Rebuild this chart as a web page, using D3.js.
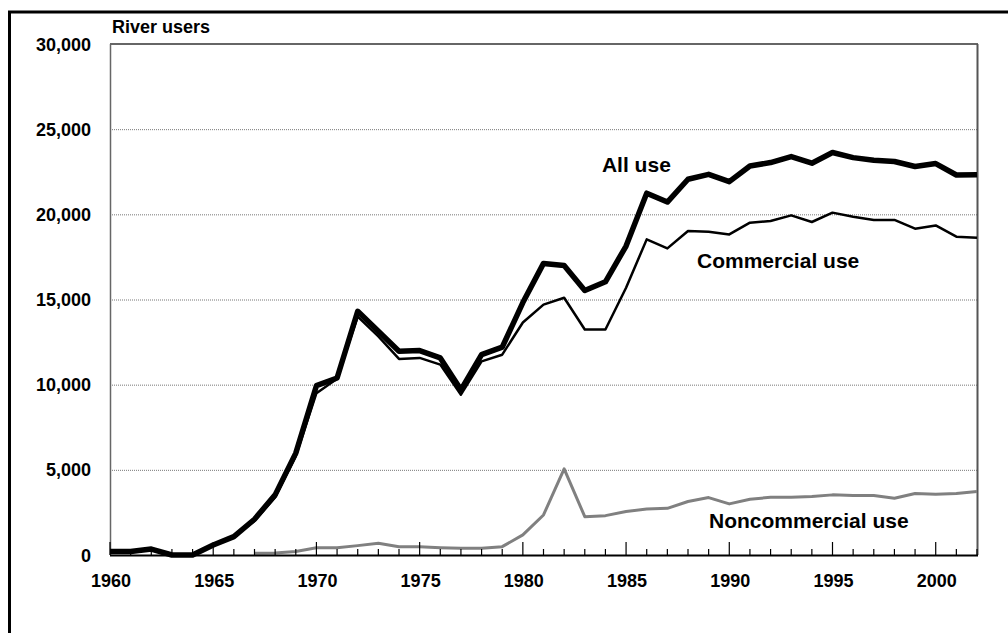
<!DOCTYPE html>
<html>
<head>
<meta charset="utf-8">
<script src="https://cdn.jsdelivr.net/npm/d3@7"></script>
<style>
  html, body { margin: 0; padding: 0; background: #fff; }
  svg { display: block; }
  text { font-family: Arial, "Liberation Sans", sans-serif; font-weight: bold; fill: #000; }
</style>
</head>
<body>
<svg id="chart" width="1008" height="633"></svg>
<script>
// River users by year, 1960–2002
const years = d3.range(1960, 2003);

const allUse = [
  200, 200, 350, 0, 0, 590, 1080, 2100, 3530, 5980,
  9940, 10390, 14310, 13140, 11960, 12000, 11570, 9700, 11760, 12200,
  14820, 17120, 17000, 15530, 16040, 18140, 21240, 20720, 22060, 22350,
  21920, 22840, 23040, 23390, 23000, 23630, 23330, 23180, 23100, 22810,
  22980, 22310, 22330
];

const commercialUse = [
  200, 200, 350, 0, 0, 590, 1080, 2000, 3400, 5800,
  9500, 10350, 14000, 12840, 11510, 11570, 11180, 9410, 11370, 11760,
  13650, 14700, 15100, 13240, 13240, 15690, 18530, 18000, 19020, 18980,
  18820, 19510, 19610, 19940, 19550, 20100, 19860, 19670, 19670, 19160,
  19350, 18690, 18630
];

// Noncommercial counts begin in 1967
const noncommercialYears = d3.range(1967, 2003);
const noncommercialUse = [
  100, 120, 200,
  430, 430, 550, 690, 490, 490, 430, 390, 390, 490,
  1180, 2350, 5060, 2250, 2310, 2550, 2700, 2740, 3140, 3370,
  3000, 3270, 3390, 3390, 3430, 3530, 3490, 3490, 3330, 3610,
  3570, 3610, 3730
];

const yTicks = [0, 5000, 10000, 15000, 20000, 25000, 30000];
const xLabels = [1960, 1965, 1970, 1975, 1980, 1985, 1990, 1995, 2000];

const svg = d3.select("#chart");

// Outer frame (runs past the right and bottom edges)
svg.append("rect")
  .attr("x", 9.5).attr("y", 12)
  .attr("width", 1200).attr("height", 800)
  .attr("fill", "none").attr("stroke", "#000").attr("stroke-width", 3);

const plotLeft = 110, plotRight = 977, plotTop = 44, plotBottom = 555;

const x = d3.scaleLinear().domain([1960, 2002]).range([plotLeft, plotRight]);
const y = d3.scaleLinear().domain([0, 30000]).range([plotBottom, plotTop]);

// Dotted horizontal gridlines
svg.append("g")
  .selectAll("line")
  .data(yTicks.filter(v => v > 0 && v < 30000))
  .join("line")
  .attr("x1", plotLeft).attr("x2", plotRight)
  .attr("y1", d => y(d) + 0.5).attr("y2", d => y(d) + 0.5)
  .attr("stroke", "#777").attr("stroke-width", 1)
  .attr("stroke-dasharray", "1,1");

// Plot frame: top and right edges, left axis
svg.append("line")
  .attr("x1", plotLeft).attr("x2", plotRight + 1)
  .attr("y1", plotTop).attr("y2", plotTop)
  .attr("stroke", "#333").attr("stroke-width", 1.5);
svg.append("line")
  .attr("x1", plotRight + 0.5).attr("x2", plotRight + 0.5)
  .attr("y1", plotTop).attr("y2", plotBottom)
  .attr("stroke", "#555").attr("stroke-width", 2);
svg.append("line")
  .attr("x1", plotLeft + 0.5).attr("x2", plotLeft + 0.5)
  .attr("y1", plotTop).attr("y2", plotBottom)
  .attr("stroke", "#666").attr("stroke-width", 1.5);

// Y axis labels
svg.append("g")
  .selectAll("text")
  .data(yTicks)
  .join("text")
  .attr("x", 91)
  .attr("y", d => y(d) + 6.5)
  .attr("text-anchor", "end")
  .attr("font-size", 18)
  .text(d => d3.format(",")(d));

// Series lines
const line = (xs, vs) => d3.line()
  .x((d, i) => x(xs[i]))
  .y(d => y(d))(vs);

svg.append("path")
  .attr("d", line(noncommercialYears, noncommercialUse))
  .attr("fill", "none").attr("stroke", "#808080")
  .attr("stroke-width", 3).attr("stroke-linejoin", "round");

svg.append("path")
  .attr("d", line(years, commercialUse))
  .attr("fill", "none").attr("stroke", "#000")
  .attr("stroke-width", 2.5).attr("stroke-linejoin", "round");

svg.append("path")
  .attr("d", line(years, allUse))
  .attr("fill", "none").attr("stroke", "#000")
  .attr("stroke-width", 5.5).attr("stroke-linejoin", "round");

// Bottom axis with inward ticks each year
svg.append("g")
  .selectAll("line")
  .data(years)
  .join("line")
  .attr("x1", d => x(d)).attr("x2", d => x(d))
  .attr("y1", plotBottom)
  .attr("y2", d => plotBottom - (d % 5 === 0 ? 13 : 6))
  .attr("stroke", "#000").attr("stroke-width", 1.2);

svg.append("line")
  .attr("x1", plotLeft).attr("x2", plotRight + 1)
  .attr("y1", plotBottom + 0.5).attr("y2", plotBottom + 0.5)
  .attr("stroke", "#000").attr("stroke-width", 2);

svg.append("g")
  .selectAll("text")
  .data(xLabels)
  .join("text")
  .attr("x", d => x(d) + 1)
  .attr("y", 587)
  .attr("text-anchor", "middle")
  .attr("font-size", 18)
  .text(d => d);

// Axis title and series labels
svg.append("text")
  .attr("x", 112).attr("y", 33)
  .attr("font-size", 18)
  .text("River users");

svg.append("text")
  .attr("x", x(1985.5)).attr("y", 172)
  .attr("text-anchor", "middle")
  .attr("font-size", 21)
  .text("All use");

svg.append("text")
  .attr("x", 697).attr("y", 268)
  .attr("font-size", 21)
  .text("Commercial use");

svg.append("text")
  .attr("x", 709).attr("y", 528)
  .attr("font-size", 21)
  .text("Noncommercial use");
</script>
</body>
</html>
